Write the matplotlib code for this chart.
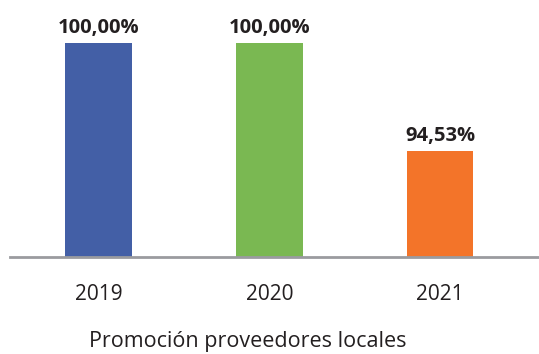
import matplotlib
matplotlib.use("Agg")
import matplotlib.pyplot as plt

years = ['2019', '2020', '2021']
values = [100.00, 100.00, 94.53]
colors = ['#435FA6', '#7AB852', '#F37429']
title = 'Promoción proveedores locales'

plt.rcParams['font.family'] = ['Open Sans', 'DejaVu Sans']

fig = plt.figure(figsize=(5.39, 3.54), dpi=100)
ax = fig.add_axes([10 / 539, (354 - 256.5) / 354, 529 / 539, 256.5 / 354])

x = list(range(len(years)))
bars = ax.bar(x, values, width=0.39, color=colors, zorder=2)

for b, v in zip(bars, values):
    ax.annotate(f'{v:.2f}%'.replace('.', ','),
                (b.get_x() + b.get_width() / 2, v),
                xytext=(0, 4), textcoords='offset points',
                ha='center', va='bottom', fontsize=14.5,
                fontweight='bold', color='#231F20')

ax.set_xlim(-0.52, 2.58)
ax.set_ylim(89.2, 102.2)
ax.set_xticks(x)
ax.set_xticklabels(years, fontsize=15, color='#231F20')
ax.tick_params(axis='x', length=0, pad=20)
ax.set_yticks([])

for s in ['top', 'right', 'left']:
    ax.spines[s].set_visible(False)
ax.spines['bottom'].set_color('#9A9B9F')
ax.spines['bottom'].set_linewidth(2)

# caption below the category labels
fig.text(248 / 539, 1 - 341 / 354, title, fontsize=15.5, color='#231F20',
         ha='center', va='center')

fig.savefig('out.png', dpi=100)
